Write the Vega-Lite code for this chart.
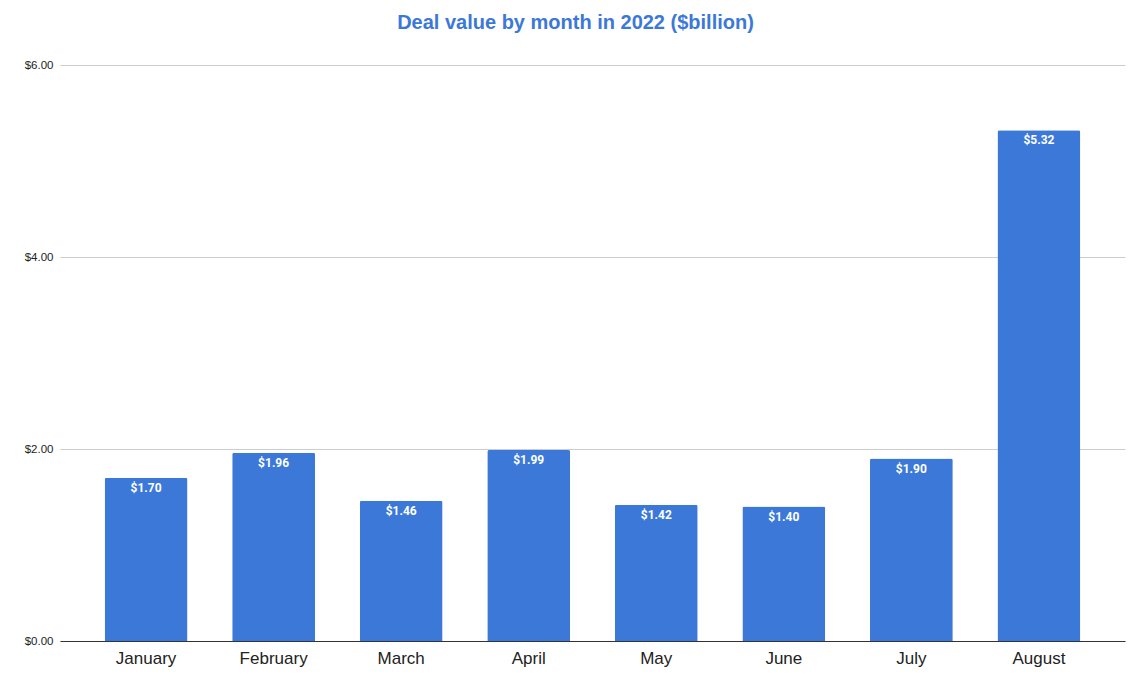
{
  "$schema": "https://vega.github.io/schema/vega-lite/v6.json",
  "width": 1065,
  "height": 576,
  "autosize": {"type": "none"},
  "padding": {"left": 60, "top": 65, "right": 5, "bottom": 47},
  "background": "white",
  "title": {
    "text": "Deal value by month in 2022 ($billion)",
    "font": "Liberation Sans",
    "fontSize": 20,
    "fontWeight": "bold",
    "color": "#3c78d8",
    "anchor": "middle",
    "dx": -17,
    "offset": 26
  },
  "config": {"view": {"stroke": null}},
  "data": {
    "values": [
      {"month": "January", "value": 1.70},
      {"month": "February", "value": 1.96},
      {"month": "March", "value": 1.46},
      {"month": "April", "value": 1.99},
      {"month": "May", "value": 1.42},
      {"month": "June", "value": 1.40},
      {"month": "July", "value": 1.90},
      {"month": "August", "value": 5.32}
    ]
  },
  "encoding": {
    "x": {
      "field": "month",
      "type": "nominal",
      "sort": null,
      "scale": {"paddingInner": 0.35, "paddingOuter": 0.35},
      "axis": {
        "title": null,
        "labelAngle": 0,
        "labelFont": "Liberation Sans",
        "labelFontSize": 17,
        "labelColor": "#222222",
        "labelPadding": 9,
        "ticks": false,
        "domainColor": "#333333",
        "domainWidth": 1
      }
    },
    "y": {
      "field": "value",
      "type": "quantitative",
      "scale": {"domain": [0, 6]},
      "axis": {
        "title": null,
        "values": [0, 2, 4, 6],
        "format": "$.2f",
        "labelFont": "Liberation Sans",
        "labelFontSize": 11.5,
        "labelColor": "#222222",
        "labelPadding": 7,
        "ticks": false,
        "domain": false,
        "gridColor": "#cccccc"
      }
    }
  },
  "layer": [
    {
      "mark": {"type": "bar", "color": "#3c78d8", "cornerRadiusTopLeft": 2, "cornerRadiusTopRight": 2}
    },
    {
      "mark": {"type": "text", "color": "white", "font": "Roboto", "fontSize": 12, "fontWeight": "bold", "baseline": "top", "dy": 5},
      "encoding": {
        "text": {"field": "value", "type": "quantitative", "format": "$.2f"}
      }
    }
  ]
}
